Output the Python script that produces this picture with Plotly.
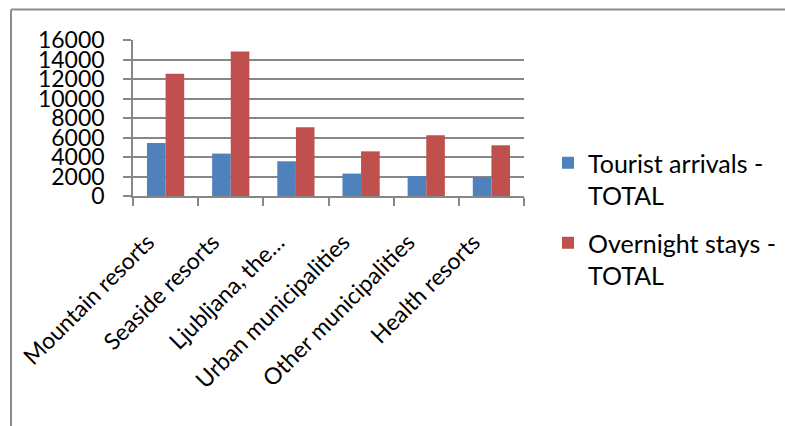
import plotly.graph_objects as go

categories = ["Mountain resorts", "Seaside resorts", "Ljubljana, the…",
              "Urban municipalities", "Other municipalities", "Health resorts"]
arrivals = [5430, 4350, 3560, 2300, 2050, 1920]
overnight = [12550, 14830, 7040, 4580, 6220, 5200]
series_names = ["Tourist arrivals -<br>TOTAL", "Overnight stays -<br>TOTAL"]

W, H = 785, 426
L, R, T, B = 133, 261, 40, 230
pw, ph = W - L - R, H - T - B

FONT = "Lato"
GRID = "#878787"

fig = go.Figure()
fig.add_trace(go.Bar(x=categories, y=arrivals, name=series_names[0], legendgroup="a",
                     marker=dict(color="#4F81BD", line=dict(width=0))))
fig.add_trace(go.Bar(x=categories, y=overnight, name=series_names[1], legendgroup="b",
                     marker=dict(color="#C0504D", line=dict(width=0))))

fig.update_layout(
    width=W, height=H,
    margin=dict(l=L, r=R, t=T, b=B, autoexpand=False),
    paper_bgcolor="white", plot_bgcolor="white",
    font=dict(family=FONT, size=22, color="black"),
    barmode="group", bargap=0.4286, bargroupgap=0,
    showlegend=True,
    legend=dict(xref="container", yref="container",
                x=548 / W, y=1 - 140 / H, xanchor="left", yanchor="top",
                valign="top", font=dict(size=25), tracegroupgap=12,
                itemwidth=30, bgcolor="rgba(0,0,0,0)"),
    xaxis=dict(type="category", showgrid=False, showline=True, linecolor=GRID, linewidth=1.5,
               ticks="outside", tickson="boundaries", ticklen=8, tickcolor=GRID, tickwidth=1.5,
               tickangle=-45, tickfont=dict(size=23), ticklabelstandoff=22,
               ticklabelshift=-18, automargin=False),
    yaxis=dict(range=[0, 16000], dtick=2000, tickformat="d", showgrid=True, gridcolor=GRID,
               gridwidth=1.5, showline=True, linecolor=GRID, linewidth=1.5, zeroline=False,
               ticks="outside", ticklen=8, tickcolor=GRID, tickwidth=1.5,
               tickfont=dict(size=23), ticklabelstandoff=14, automargin=False),
    shapes=[
        dict(type="line", xref="paper", yref="paper",
             x0=(11 - L) / pw, x1=(W - L) / pw, y0=1 + (T - 9.5) / ph, y1=1 + (T - 9.5) / ph,
             line=dict(color="#8c8c8c", width=2)),
        dict(type="line", xref="paper", yref="paper",
             x0=(11 - L) / pw, x1=(11 - L) / pw, y0=1 + (T - 9.5) / ph, y1=-(B) / ph,
             line=dict(color="#8c8c8c", width=2)),
    ],
)

fig.write_html("out.html")
